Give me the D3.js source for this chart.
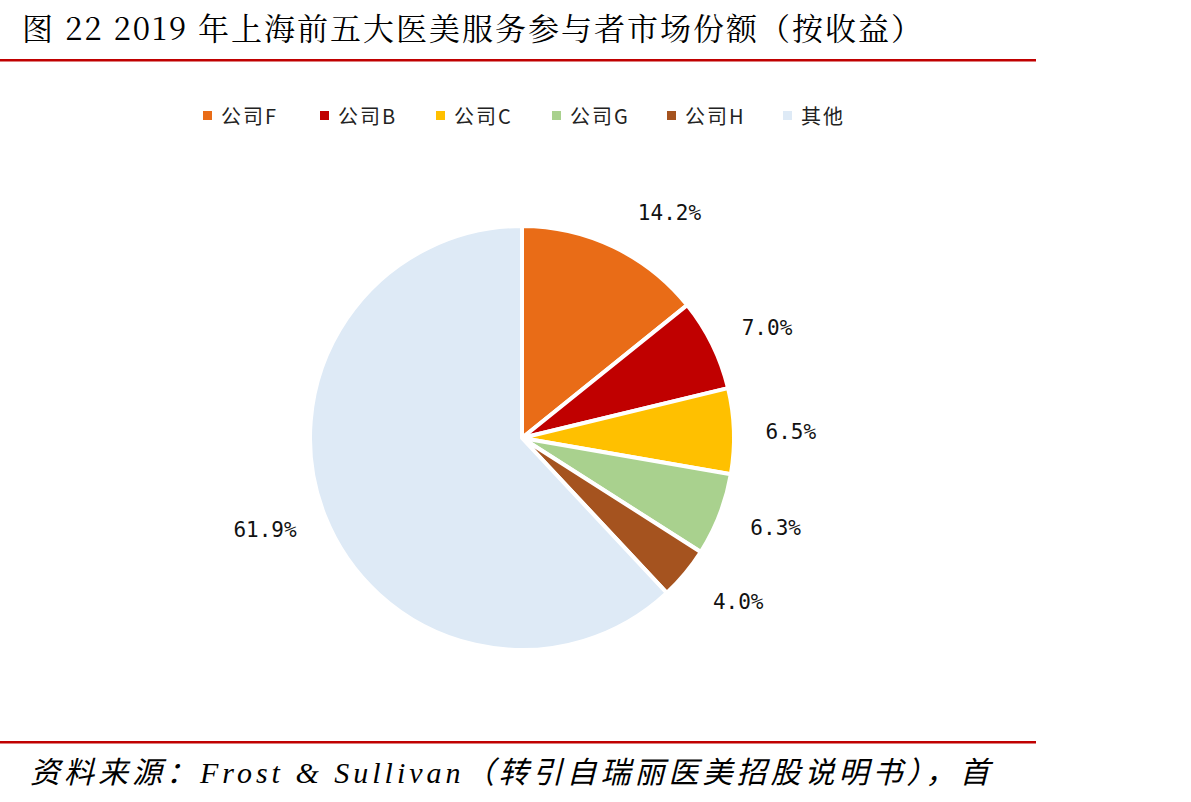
<!DOCTYPE html>
<html><head><meta charset="utf-8">
<script src="https://cdn.jsdelivr.net/npm/d3@7"></script>
<style>body{margin:0;background:#fff;}</style></head>
<body><svg id="c" width="1191" height="802"></svg>
<script>
const categories = ["公司F","公司B","公司C","公司G","公司H","其他"];
const values = [14.2,7.0,6.5,6.3,4.0,61.9];
const colors = ["#E96C17","#C00000","#FFC000","#A9D18E","#A5531F","#DEEAF6"];
const labels = ["14.2%","7.0%","6.5%","6.3%","4.0%","61.9%"];

const svg = d3.select("#c");
const cjk = "'Noto Sans CJK SC', sans-serif";
svg.append("text").attr("x",22).attr("y",40).attr("font-family","'Noto Serif CJK SC','Liberation Serif',"+cjk)
  .attr("font-size",31).attr("letter-spacing",2).attr("fill","#000").text("图  22 2019 年上海前五大医美服务参与者市场份额（按收益）");
svg.append("rect").attr("x",0).attr("y",59).attr("width",1036).attr("height",2.5).attr("fill","#C00000");
svg.append("rect").attr("x",0).attr("y",741).attr("width",1036).attr("height",2.5).attr("fill","#C00000");
svg.append("text").attr("x",30).attr("y",783).attr("font-family","'Liberation Serif',"+cjk).attr("font-style","italic")
  .attr("font-size",30).attr("letter-spacing",4).text("资料来源：Frost & Sullivan（转引自瑞丽医美招股说明书），首");

const lx = [203,320,436,552,667,783];
const lg = svg.append("g");
categories.forEach((c,i)=>{
  lg.append("rect").attr("x",lx[i]).attr("y",111).attr("width",9).attr("height",9).attr("fill",colors[i]);
  lg.append("text").attr("x",lx[i]+18).attr("y",124).attr("font-family","'Noto Sans CJK SC',sans-serif")
    .attr("font-size",20).attr("letter-spacing",2).attr("fill","#222").text(c);
});

const cx=522, cy=438, r=212;
const pie = d3.pie().sort(null).value(d=>d)(values);
const arc = d3.arc().innerRadius(0).outerRadius(r);
const g = svg.append("g").attr("transform",`translate(${cx},${cy})`);
g.selectAll("path").data(pie).join("path").attr("d",arc).attr("fill",(d,i)=>colors[i])
  .attr("stroke","#fff").attr("stroke-width",4).attr("stroke-linejoin","round");
const la = d3.arc().innerRadius(272).outerRadius(272);
const offs = [[30,20],[1,10],[-3,3],[0,-8],[7,-10],[-4,-8]];
g.selectAll("text").data(pie).join("text")
  .attr("x",(d,i)=>la.centroid(d)[0]+offs[i][0]).attr("y",(d,i)=>la.centroid(d)[1]+offs[i][1]+7)
  .attr("text-anchor","middle").attr("font-family","'DejaVu Sans Mono','DejaVu Sans',sans-serif").attr("font-size",21).attr("fill","#111")
  .text((d,i)=>labels[i]);
</script></body></html>
